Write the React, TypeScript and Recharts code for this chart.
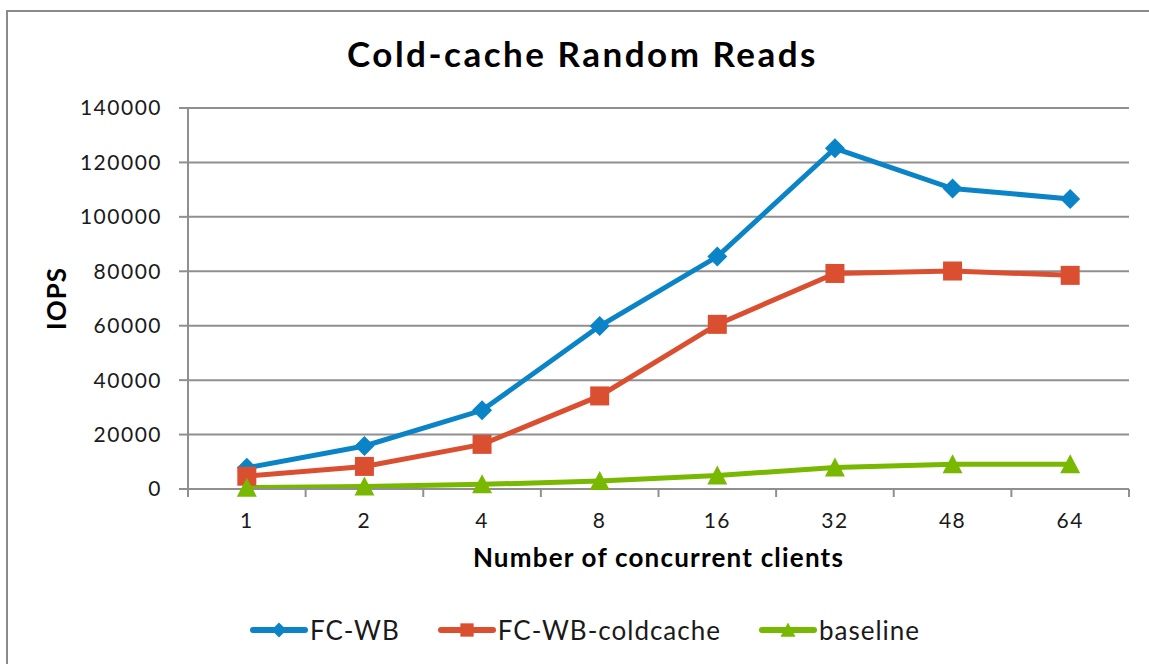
import React from 'react';
import { LineChart, Line, XAxis, YAxis, CartesianGrid, Label } from 'recharts';

const categories = ['1', '2', '4', '8', '16', '32', '48', '64'];
const fcWb = [7800, 15800, 28900, 59900, 85400, 125200, 110400, 106600];
const fcWbColdcache = [4700, 8300, 16400, 34200, 60500, 79200, 80100, 78500];
const baseline = [500, 900, 1700, 2900, 5000, 7900, 9100, 9100];
const yTicks = [0, 20000, 40000, 60000, 80000, 100000, 120000, 140000];

const GRID = '#8f8f8f';
const FONT = 'Lato, "Open Sans", sans-serif';

type Shape = 'diamond' | 'square' | 'triangle';

const SERIES: { key: string; name: string; color: string; shape: Shape }[] = [
  { key: 'fcWb', name: 'FC-WB', color: '#0A84C6', shape: 'diamond' },
  { key: 'fcWbColdcache', name: 'FC-WB-coldcache', color: '#DB4F31', shape: 'square' },
  { key: 'baseline', name: 'baseline', color: '#78B800', shape: 'triangle' },
];

const chartData = categories.map((c, i) => ({
  clients: c,
  fcWb: fcWb[i],
  fcWbColdcache: fcWbColdcache[i],
  baseline: baseline[i],
}));

function marker(shape: Shape, cx: number, cy: number, r: number, color: string) {
  if (shape === 'diamond') {
    return (
      <polygon
        points={`${cx},${cy - r} ${cx + r},${cy} ${cx},${cy + r} ${cx - r},${cy}`}
        fill={color}
      />
    );
  }
  if (shape === 'square') {
    const s = r * 0.95;
    return <rect x={cx - s} y={cy - s} width={s * 2} height={s * 2} fill={color} />;
  }
  return (
    <polygon
      points={`${cx},${cy - r} ${cx + r},${cy + r * 0.9} ${cx - r},${cy + r * 0.9}`}
      fill={color}
    />
  );
}

function makeDot(shape: Shape, color: string) {
  return (props: any) => {
    const { cx, cy, index } = props;
    if (cx == null || cy == null) return <g key={index} />;
    return <g key={index}>{marker(shape, cx, cy, 10, color)}</g>;
  };
}

// category label plus the small tick marks on the band edges (Excel style)
function CategoryTick(props: any) {
  const { x, y, payload, index } = props;
  const half = payload?.offset ?? 0;
  const last = index === categories.length - 1;
  return (
    <g>
      <line x1={x - half} y1={y} x2={x - half} y2={y + 8} stroke={GRID} strokeWidth={2} />
      {last && <line x1={x + half} y1={y} x2={x + half} y2={y + 8} stroke={GRID} strokeWidth={2} />}
      <text
        x={x}
        y={y + 39}
        textAnchor="middle"
        fill="#1a1a1a"
        fontSize={21}
        fontFamily={FONT}
        letterSpacing={1.5}
      >
        {payload.value}
      </text>
    </g>
  );
}

function YTitle(props: any) {
  const { viewBox } = props;
  const cx = 56;
  const cy = viewBox.y + viewBox.height / 2;
  return (
    <text
      x={cx}
      y={cy}
      transform={`rotate(-90, ${cx}, ${cy})`}
      textAnchor="middle"
      dominantBaseline="central"
      fill="#000"
      fontSize={26}
      fontWeight={700}
      fontFamily={FONT}
      letterSpacing={1}
    >
      IOPS
    </text>
  );
}

function LegendRow() {
  return (
    <div
      style={{
        position: 'absolute',
        top: 614,
        left: 0,
        width: 1170,
        display: 'flex',
        justifyContent: 'center',
        gap: 38,
        fontFamily: FONT,
        fontSize: 26,
        color: '#1a1a1a',
      }}
    >
      {SERIES.map((s) => (
        <div key={s.key} style={{ display: 'flex', alignItems: 'center' }}>
          <svg width={58} height={32} style={{ marginRight: 2 }}>
            <line x1={3} y1={16} x2={55} y2={16} stroke={s.color} strokeWidth={6} strokeLinecap="round" />
            {marker(s.shape, 29, 16, s.shape === 'square' ? 7 : 7.5, s.color)}
          </svg>
          <span style={{ letterSpacing: 1 }}>{s.name}</span>
        </div>
      ))}
    </div>
  );
}

export default function App() {
  return (
    <div
      style={{
        position: 'absolute',
        top: 0,
        left: 0,
        width: 1149,
        height: 664,
        overflow: 'hidden',
        background: '#fff',
      }}
    >
      <div
        style={{
          position: 'absolute',
          left: 6,
          top: 10,
          width: 1200,
          height: 700,
          border: '2px solid #8a8a8a',
        }}
      />
      <div
        style={{
          position: 'absolute',
          top: 32,
          left: 0,
          width: 1165,
          textAlign: 'center',
          fontFamily: FONT,
          fontWeight: 700,
          fontSize: 35,
          letterSpacing: 2.5,
          color: '#000',
        }}
      >
        Cold-cache Random Reads
      </div>
      <div style={{ position: 'absolute', top: 0, left: 0 }}>
        <LineChart
          width={1149}
          height={664}
          data={chartData}
          margin={{ top: 108, right: 20, bottom: 95, left: 0 }}
        >
          <CartesianGrid vertical={false} stroke={GRID} strokeWidth={2} />
          <XAxis
            dataKey="clients"
            scale="band"
            stroke={GRID}
            strokeWidth={2}
            tickLine={false}
            tickSize={0}
            tickMargin={0}
            height={80}
            interval={0}
            tick={<CategoryTick />}
          >
            <Label
              value="Number  of concurrent clients"
              position="insideBottom"
              offset={2}
              style={{
                fill: '#000',
                fontSize: 26,
                fontWeight: 700,
                fontFamily: FONT,
                letterSpacing: 1.2,
                whiteSpace: 'pre',
              }}
            />
          </XAxis>
          <YAxis
            width={188}
            domain={[0, 140000]}
            ticks={yTicks}
            interval={0}
            tickSize={9}
            tickMargin={17}
            stroke={GRID}
            strokeWidth={2}
            tick={{ fill: '#1a1a1a', fontSize: 21, fontFamily: FONT, letterSpacing: 1.5 }}
          >
            <Label content={<YTitle />} />
          </YAxis>
          {SERIES.map((s) => (
            <Line
              key={s.key}
              dataKey={s.key}
              name={s.name}
              type="linear"
              stroke={s.color}
              strokeWidth={5}
              dot={makeDot(s.shape, s.color)}
              activeDot={false}
              isAnimationActive={false}
            />
          ))}
        </LineChart>
      </div>
      <LegendRow />
    </div>
  );
}
